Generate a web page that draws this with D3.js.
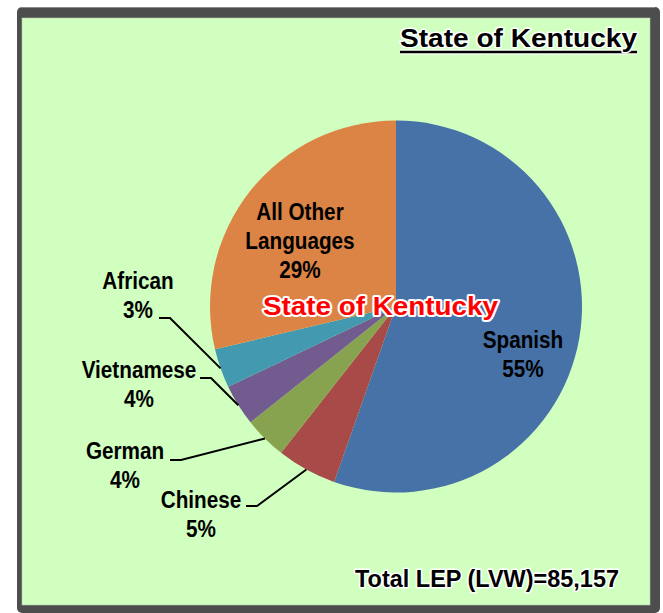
<!DOCTYPE html>
<html>
<head>
<meta charset="utf-8">
<script src="https://cdn.jsdelivr.net/npm/d3@7"></script>
<style>
  html, body { margin: 0; padding: 0; background: #ffffff; }
  svg { display: block; }
  text { font-family: "Liberation Sans", Arial, sans-serif; font-weight: bold; }
</style>
</head>
<body>
<svg id="chart" width="663" height="613"></svg>
<script>
// ---- data ----
const languages = ["Spanish", "Chinese", "German", "Vietnamese", "African", "All Other Languages"];
const shares = [55.4, 5.2, 3.7, 3.6, 3.4, 28.7];
const sliceColors = ["#4672A8", "#A84A47", "#88A34F", "#725B8F", "#4299B0", "#DB8445"];
const titleText = "State of Kentucky";
const totalText = "Total LEP (LVW)=85,157";

// ---- layout (positions only) ----
const W = 663, H = 613;
const cx = 396, cy = 306.5, R = 186;
const lineGap = 29;
const labelFont = 23, labelSqueeze = 0.9;
// label anchor: centre x, first baseline, optional leader start (x,y)
const labelLayout = [
  { x: 523, y: 348, lines: ["Spanish"] },
  { x: 201, y: 508, lines: ["Chinese"], leader: [246, 506] },
  { x: 125, y: 459, lines: ["German"], leader: [170, 460] },
  { x: 139, y: 378, lines: ["Vietnamese"], leader: [200, 378] },
  { x: 138, y: 289, lines: ["African"], leader: [159, 318] },
  { x: 300, y: 220, lines: ["All Other", "Languages"] }
];

const svg = d3.select("#chart");

// frame
svg.append("rect").attr("x", 17).attr("y", 7).attr("width", 643).attr("height", 606)
  .attr("rx", 5).attr("fill", "#4D4D4D");
svg.append("line").attr("x1", 20).attr("x2", 655).attr("y1", 7.5).attr("y2", 7.5)
  .attr("stroke", "#8a8a8a").attr("stroke-width", 1);
svg.append("rect").attr("x", 22).attr("y", 18).attr("width", 628).attr("height", 587)
  .attr("fill", "#D0FFC0").attr("stroke", "#b8c8b0").attr("stroke-width", 0.6);

// pie
const pie = d3.pie().sort(null).value(d => d.v).startAngle(0).endAngle(2 * Math.PI);
const data = languages.map((name, i) => ({ name, v: shares[i], color: sliceColors[i], layout: labelLayout[i] }));
const arcs = pie(data);
const arc = d3.arc().innerRadius(0).outerRadius(R);
const edge = d3.arc().innerRadius(R).outerRadius(R);

const g = svg.append("g").attr("transform", `translate(${cx},${cy})`);
g.selectAll("path.slice").data(arcs).join("path")
  .attr("class", "slice")
  .attr("d", arc)
  .attr("fill", d => d.data.color);

const pct = v => Math.round(v) + "%";

// leader lines
arcs.forEach(a => {
  const L = a.data.layout;
  if (!L.leader) return;
  const c = edge.centroid(a);
  const p0 = [L.leader[0], L.leader[1]];
  const p1 = [L.leader[0] + 11, L.leader[1]];
  const p2 = [cx + c[0], cy + c[1]];
  svg.append("path")
    .attr("d", d3.line()([p0, p1, p2]))
    .attr("fill", "none").attr("stroke", "#000").attr("stroke-width", 2);
});

// labels (slightly condensed like the original)
arcs.forEach(a => {
  const L = a.data.layout;
  const lines = L.lines.concat([pct(a.data.v)]);
  lines.forEach((s, k) => {
    const t = svg.append("text")
      .attr("text-anchor", "middle")
      .attr("x", L.x).attr("y", L.y + k * lineGap)
      .attr("font-size", labelFont)
      .attr("fill", "#000")
      .text(s);
    const w = t.node().getComputedTextLength();
    t.attr("textLength", w * labelSqueeze).attr("lengthAdjust", "spacingAndGlyphs");
  });
});

// centre overlay title (red with white outline)
svg.append("text")
  .attr("x", 263).attr("y", 315)
  .attr("font-size", 25)
  .attr("textLength", 235).attr("lengthAdjust", "spacingAndGlyphs")
  .attr("fill", "#FF0000").attr("stroke", "#ffffff").attr("stroke-width", 4)
  .attr("stroke-linejoin", "round").attr("paint-order", "stroke")
  .text(titleText);

// top-right title with underline
svg.append("line").attr("x1", 400).attr("x2", 637).attr("y1", 52).attr("y2", 52)
  .attr("stroke", "#ffffff").attr("stroke-width", 5);
svg.append("line").attr("x1", 400).attr("x2", 637).attr("y1", 52).attr("y2", 52)
  .attr("stroke", "#000").attr("stroke-width", 2.5);
svg.append("text")
  .attr("x", 400).attr("y", 47)
  .attr("font-size", 25)
  .attr("textLength", 237).attr("lengthAdjust", "spacingAndGlyphs")
  .attr("fill", "#000").attr("stroke", "#ffffff").attr("stroke-width", 3)
  .attr("stroke-linejoin", "round").attr("paint-order", "stroke")
  .text(titleText);

// total
svg.append("text")
  .attr("x", 355).attr("y", 587)
  .attr("font-size", 23)
  .attr("textLength", 264).attr("lengthAdjust", "spacingAndGlyphs")
  .attr("fill", "#000").attr("stroke", "#ffffff").attr("stroke-width", 3)
  .attr("stroke-linejoin", "round").attr("paint-order", "stroke")
  .text(totalText);
</script>
</body>
</html>
